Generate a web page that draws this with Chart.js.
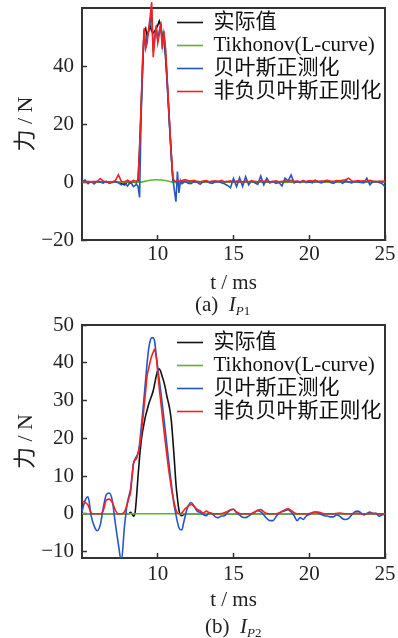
<!DOCTYPE html>
<html><head><meta charset="utf-8">
<script src="https://cdn.jsdelivr.net/npm/chart.js@4.4.1/dist/chart.umd.min.js"></script>
<style>
html,body{margin:0;padding:0;background:#fff;}
#wrap{position:relative;width:398px;height:638px;overflow:hidden;background:#fff;}
canvas{position:absolute;left:0;}
.cap{position:absolute;font-family:'Liberation Serif','Noto Sans CJK SC',serif;font-size:21px;line-height:24px;color:#222;white-space:nowrap;}
.cap sub{font-size:13px;vertical-align:-4px;line-height:0;}
</style></head><body>
<div id="wrap">
<canvas id="c1" width="398" height="296" style="top:0;width:398px;height:296px"></canvas>
<div class="cap" style="left:195px;top:292px">(a)&nbsp;&nbsp;<i>I</i><sub><i>P</i>1</sub></div>
<canvas id="c2" width="398" height="297" style="top:316px;width:398px;height:297px"></canvas>
<div class="cap" style="left:205px;top:614px">(b)&nbsp;&nbsp;<i>I</i><sub><i>P</i>2</sub></div>
</div>
<script>
// ---------- shared ----------
const seriesNames = ['实际值', 'Tikhonov(L-curve)', '贝叶斯正测化', '非负贝叶斯正则化'];
const xTicks = [10, 15, 20, 25];

// ---------- chart (a) I_P1 ----------
const yTicksA = [-20, 0, 20, 40];
const tA = [5.0,5.2,5.4,5.6,5.8,6.0,6.2,6.4,6.6,6.8,7.0,7.2,7.4,7.6,7.8,8.0,8.2,8.4,
  8.6,8.7,8.8,8.9,9.0,9.1,9.2,9.3,9.4,9.5,9.6,9.7,9.8,9.9,10.0,10.1,10.2,10.3,10.4,10.5,10.6,10.7,10.8,10.9,11.0,11.1,11.2,11.3,11.4,11.5,11.6,
  11.8,12.0,12.2,12.4,12.6,12.8,13.0,13.2,13.4,13.6,13.8,14.0,14.2,14.4,14.6,14.8,15.0,15.2,15.4,15.6,15.8,16.0,16.2,16.4,16.6,16.8,17.0,17.2,17.4,17.6,17.8,18.0,18.2,18.4,18.6,18.8,19.0,19.2,19.4,19.6,19.8,20.0,20.2,20.4,20.6,20.8,21.0,21.2,21.4,21.6,21.8,22.0,22.2,22.4,22.6,22.8,23.0,23.2,23.4,23.6,23.8,24.0,24.2,24.4,24.6,24.8,25.0];
const blueA = [0.2,0.7,-0.6,0.2,-0.7,0.3,0.0,-0.4,0.3,-0.5,-0.2,0.2,-0.3,-1.0,-0.4,-1.4,0.0,-1.6,
  -0.8,-1.5,-5.3,22,40,52,47,50,52,55,58,45,50,53,49,52,54,47,51,46,37,27,17,8,1,-3,-6.8,3.6,-3.8,0.5,-0.6,
  0.3,-0.4,-0.6,0.2,-0.1,-0.8,0.1,0.5,-0.3,-0.5,
  0.1,0.2,-0.3,-0.6,-1.2,-2.0,1.2,-1.6,1.5,-1.5,
  1.8,-1.0,0.5,-0.3,-0.8,2.1,-1.0,1.3,-0.3,0.2,
  -0.5,-0.2,-1.4,1.3,0.3,2.4,-0.3,0.2,-0.2,0.5,
  -0.2,0.1,-0.3,0.5,0.0,-0.3,0.2,0.5,-0.2,-0.5,
  0.2,0.5,-0.5,0.5,0.0,-0.3,0.2,0.0,-0.2,-0.3,
  1.3,-1.0,0.1,0.2,-0.2,-0.5,-1.6];
const redA = [0.3,0.0,0.2,0.0,0.2,0.1,1.2,0.3,0.0,0.0,0.0,0.5,2.5,0.2,0.0,0.6,0.0,0.6,
  0.2,0.8,12,26,42,53,46,48,53,57,62,43,49,54,48,51,55,46,52,47,38,28,18,9,1.5,0.3,0.2,0.6,0.3,0.2,0.5,
  0.8,0.5,0.3,0.6,0.2,0.1,0.3,0.5,0.1,0.3,
  0.4,0.2,0.6,0.1,0.2,0.4,0.1,0.3,0.2,0.1,
  0.3,0.1,0.4,0.2,0.1,0.5,0.2,0.3,0.1,0.2,
  0.4,0.1,0.2,0.4,0.2,0.6,0.2,0.3,0.1,0.4,
  0.2,0.5,0.3,0.6,0.2,0.3,0.4,0.6,0.3,0.2,
  0.5,0.3,0.6,0.8,1.3,0.4,0.2,0.5,0.3,0.4,
  0.2,0.6,0.3,0.1,0.3,0.2,0.3];
const tBlackA = [5.0,7.4,7.6,7.8,8.0,8.2,8.4,8.6,
  8.7,8.8,8.9,9.0,9.1,9.2,9.3,9.4,9.5,9.6,9.7,9.8,9.9,10.0,10.1,10.2,10.3,10.4,10.5,10.6,10.7,10.8,10.9,11.0,11.1,25.0];
const blackA = [0,0,-0.5,-1.0,0,-0.4,0,-0.3,
  0.3,11,25,39,52,53,50.3,52,53.7,52,51.4,52,53,54,55.5,54,50.3,50,44,36,27,18,9,0.5,0,0];
const tGreenA = [5.0,8.6,8.8,9.2,9.6,10.0,10.4,10.8,11.2,11.6,12.0,25.0];
const greenA = [0,0,-0.1,0.3,0.7,0.8,0.6,0.2,-0.2,-0.2,0,0];

// ---------- chart (b) I_P2 ----------
const yTicksB = [-10, 0, 10, 20, 30, 40, 50];
const tB = [5.0,5.2,5.4,5.6,5.8,6.0,6.2,6.4,6.6,6.8,7.0,7.2,7.4,7.6,7.8,
  8.0,8.1,8.2,8.3,8.4,8.5,8.6,8.7,8.8,8.9,9.0,9.1,9.2,9.3,9.4,9.5,9.6,9.7,9.8,9.9,10.0,10.1,10.2,10.3,10.4,10.5,10.6,10.7,10.8,10.9,11.0,11.1,11.2,11.3,11.4,11.5,11.6,11.7,11.8,11.9,12.0,
  12.2,12.4,12.6,12.8,13.0,13.2,13.4,13.6,13.8,14.0,14.2,14.4,14.6,14.8,15.0,15.2,15.4,15.6,15.8,16.0,16.2,16.4,16.6,16.8,17.0,17.2,17.4,17.6,17.8,18.0,18.2,18.4,18.6,18.8,19.0,19.2,19.4,19.6,19.8,20.0,20.2,20.4,20.6,20.8,21.0,21.2,21.4,21.6,21.8,22.0,22.2,22.4,22.6,22.8,23.0,23.2,23.4,23.6,23.8,24.0,24.2,24.4,24.6,24.8,25.0];
const blueB = [0.5,3.5,4.5,-0.5,-3.2,-4.5,-3.0,1.5,5.0,5.5,3.5,-2.5,-8,-12.5,-3.5,
  3.0,4.8,6.5,10.0,13.4,14.5,15.3,16.0,18.5,22.5,
  26.5,31.0,35.5,40.0,43.7,45.8,46.6,46.6,45.5,42.0,
  38.7,35.5,32.3,29.0,25.5,21.9,18.3,14.7,11.2,7.9,
  4.5,1.8,-0.2,-2.2,-3.7,-4.2,-4.2,-2.5,-0.8,0.8,
  2.0,
  3.0,2.0,0.7,0.4,-0.2,-0.5,0.3,0.0,-0.8,-1.0,
  -0.6,-0.5,0.3,1.0,1.2,0.3,-0.3,-0.9,-1.0,-0.6,
  0.0,0.5,0.8,0.5,-0.3,-1.2,-1.8,-1.8,-0.8,0.2,
  0.6,0.8,1.1,0.5,-0.5,-1.8,-1.0,-1.5,-0.6,-0.2,
  0.3,0.5,0.2,-0.2,-0.5,-0.6,-0.8,-0.8,-0.3,-0.6,
  -1.3,-1.5,-1.2,-0.3,0.5,0.7,0.3,-0.3,0.1,0.5,
  0.0,0.2,-0.6,-0.3,0.0];
const redB = [3.4,3.0,2.3,0.3,0,0,0,0.8,3.6,3.9,3.0,1.0,0,0,0.5,
  2.8,4.2,5.6,9.5,13.3,14.2,14.7,16.0,17.8,20.5,
  24.5,28.5,32.5,36.6,38.5,40.3,41.8,42.8,43.6,41.5,
  37.5,33.2,29.7,26.0,22.4,19.0,15.6,12.3,9.5,6.8,
  4.6,2.7,1.0,0.2,0,0,0.3,0.8,1.3,1.6,
  2.0,
  2.5,2.0,1.2,0.8,0.2,0.7,0.3,0.1,0,0,
  0.1,0.3,0.6,1.1,1.2,0.5,0.1,0,0,0,
  0.1,0.4,1.0,1.1,0.5,0.1,0,0,0,0.2,
  0.6,1.1,1.3,0.9,0.3,0,0,0,0,0.1,
  0.3,0.5,0.5,0.2,0,0,0,0,0.1,0.2,
  0.1,0,0,0,0.1,0.2,0,0,0,0.1,
  0.2,0,0,0,0];
const tBlackB = [5.0,8.1,8.2,8.3,8.4,8.5,8.6,8.7,8.8,8.9,9.0,9.1,9.2,9.3,9.4,9.5,9.6,9.7,9.8,9.9,10.0,10.1,10.2,10.3,10.4,10.5,10.6,10.7,10.8,10.9,11.0,11.1,11.2,11.3,11.4,11.5,11.6,11.8,25.0];
const blackB = [0,0,0.4,0,-0.6,0.2,4.5,10.0,15.0,19.0,21.8,24.0,26.0,27.5,29.0,30.2,31.3,32.6,34.5,36.5,38.0,38.4,37.6,36.3,35.0,33.3,31.2,29.5,27.5,24.5,19.5,14.0,8.0,4.0,1.0,-0.3,-0.5,0,0];
const tGreenB = [5.0, 25.0];
const greenB = [0, 0];

// ---------- rendering ----------
const FONT = "'Liberation Serif','Noto Sans CJK SC',serif";
const FS = 21;
const COLORS = ['#111111', '#5cb531', '#2456c4', '#f22222'];
const ORDER = [4, 3, 2, 1];
const FRAME = '#333333';

function pts(t, v) {
  if (t.length !== v.length) console.error('length mismatch', t.length, v.length);
  return t.map((x, i) => ({x: x, y: v[i]}));
}
function fmt(v) { return v < 0 ? '\u2212' + Math.abs(v) : String(v); }

const legendPlacer = {
  id: 'legendPlacer',
  afterLayout(chart, args, opts) {
    const lg = chart.legend;
    if (!lg) return;
    lg.left = opts.left;
    lg.right = chart.width;
    lg.top = chart.chartArea.top + opts.dy;
    lg.bottom = chart.chartArea.bottom;
  }
};

function makeChart(id, p) {
  const ds = (i, t, v, extra) => Object.assign({
    label: seriesNames[i], data: pts(t, v), borderColor: COLORS[i], backgroundColor: COLORS[i],
    borderWidth: 1.6, pointRadius: 0, fill: false, order: ORDER[i],
    tension: 0, cubicInterpolationMode: p.smooth ? 'monotone' : 'default'
  }, extra || {});
  const font = {family: FONT, size: FS};
  return new Chart(document.getElementById(id), {
    type: 'line',
    data: {datasets: [
      ds(0, p.tBlack, p.black),
      ds(1, p.tGreen, p.green, {cubicInterpolationMode: 'monotone'}),
      ds(2, p.t, p.blue, {clip: {left: 0, top: 10, right: 0, bottom: 0}}),
      ds(3, p.t, p.red, {clip: {left: 0, top: 10, right: 0, bottom: 0}})
    ]},
    options: {
      responsive: false, animation: false, devicePixelRatio: 1,
      events: [],
      layout: {padding: {top: p.padTop, right: 13, left: 0, bottom: 0}},
      plugins: {
        legend: {
          position: 'chartArea', align: 'start',
          labels: {
            usePointStyle: true, pointStyle: 'line', pointStyleWidth: 26, padding: 2,
            color: '#111', font: font,
            sort: (a, b) => a.datasetIndex - b.datasetIndex
          }
        },
        tooltip: {enabled: false},
        legendPlacer: {left: 175, dy: p.legendDy}
      },
      scales: {
        x: {
          type: 'linear', position: 'bottom', min: 5, max: 25,
          afterBuildTicks: s => { s.ticks = xTicks.map(v => ({value: v})); },
          afterFit: s => { s.height = p.xh; s.paddingLeft = 0; s.paddingRight = 0; },
          grid: {drawOnChartArea: false, drawTicks: true, tickLength: -5, tickColor: FRAME, tickWidth: 1.5},
          border: {color: FRAME, width: 2},
          ticks: {padding: p.xpad, color: '#222', font: font, maxRotation: 0, autoSkip: false},
          title: {display: true, text: 't / ms', color: '#222', font: font, padding: {top: 0, bottom: 0}}
        },
        y: {
          type: 'linear', position: 'left', min: p.ymin, max: p.ymax,
          afterBuildTicks: s => { s.ticks = p.yTicks.map(v => ({value: v})); },
          afterFit: s => { s.width = 82; s.paddingTop = 0; s.paddingBottom = 0; },
          grid: {drawOnChartArea: false, drawTicks: true, tickLength: -5, tickColor: FRAME, tickWidth: 1.5},
          border: {color: FRAME, width: 2},
          ticks: {padding: 13, color: '#222', font: font, callback: v => fmt(v), autoSkip: false},
          title: {display: true, text: '力 / N', color: '#222', font: {family: FONT, size: 22}, padding: {top: 13, bottom: 0}}
        },
        x2: {
          type: 'linear', position: 'top', min: 5, max: 25,
          afterFit: s => { s.height = 0; s.paddingLeft = 0; s.paddingRight = 0; },
          grid: {drawOnChartArea: false, drawTicks: false},
          border: {color: FRAME, width: 2},
          ticks: {display: false}
        },
        y2: {
          type: 'linear', position: 'right', min: p.ymin, max: p.ymax,
          afterFit: s => { s.width = 0; s.paddingTop = 0; s.paddingBottom = 0; },
          grid: {drawOnChartArea: false, drawTicks: false},
          border: {color: FRAME, width: 2},
          ticks: {display: false}
        }
      }
    },
    plugins: [legendPlacer]
  });
}

makeChart('c1', {
  t: tA, blue: blueA, red: redA, tBlack: tBlackA, black: blackA, tGreen: tGreenA, green: greenA,
  yTicks: yTicksA, ymin: -20, ymax: 60, padTop: 8, xh: 56, xpad: 7, legendDy: 2, smooth: false
});
makeChart('c2', {
  t: tB, blue: blueB, red: redB, tBlack: tBlackB, black: blackB, tGreen: tGreenB, green: greenB,
  yTicks: yTicksB, ymin: -11.7, ymax: 50, padTop: 9, xh: 55, xpad: 9, legendDy: 5, smooth: true
});
</script>
</body></html>
